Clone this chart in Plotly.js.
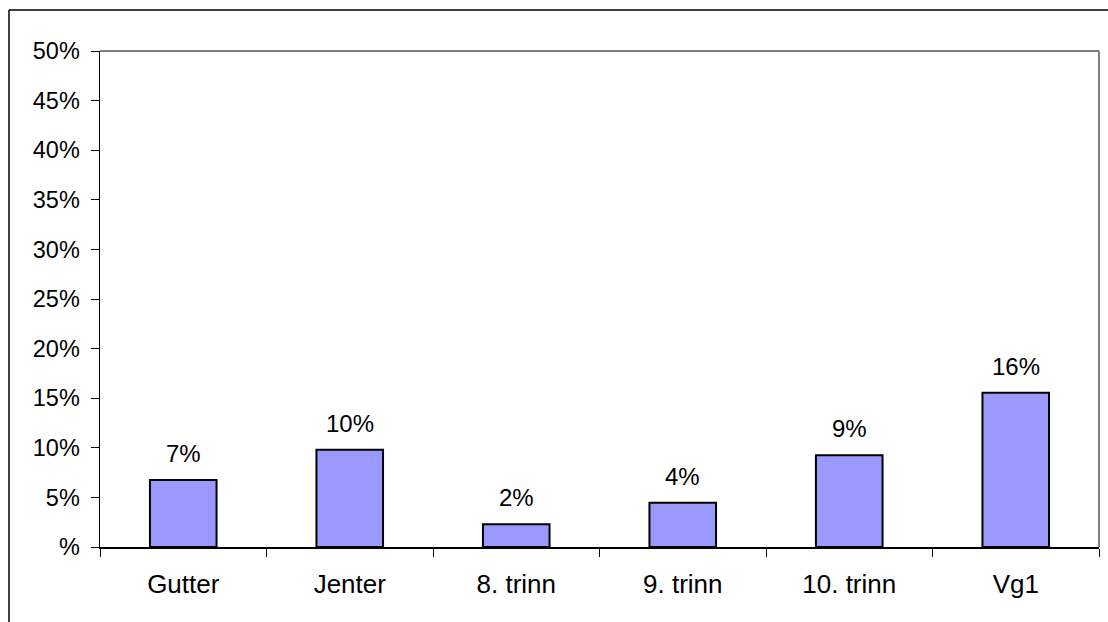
<!DOCTYPE html>
<html>
<head>
<meta charset="utf-8">
<script src="https://cdn.plot.ly/plotly-3.0.1.min.js"></script>
<style>
  html, body { margin: 0; padding: 0; background: #fff; }
  #chart { width: 1108px; height: 622px; }
</style>
</head>
<body>
<div id="chart"></div>
<script>
const categories = ['Gutter', 'Jenter', '8. trinn', '9. trinn', '10. trinn', 'Vg1'];
const values = [6.75, 9.8, 2.3, 4.45, 9.25, 15.55];
const yTickVals = [0, 5, 10, 15, 20, 25, 30, 35, 40, 45, 50];
const yTickText = ['%', '5%', '10%', '15%', '20%', '25%', '30%', '35%', '40%', '45%', '50%'];

const font = 'Liberation Sans, Arial, sans-serif';

const trace = {
  type: 'bar',
  x: categories,
  y: values,
  width: 0.4,
  marker: { color: '#9999FF', line: { color: '#000000', width: 2 } },
  hoverinfo: 'skip'
};

const labels = categories.map((c, i) => ({
  x: c,
  y: values[i],
  xref: 'x',
  yref: 'y',
  text: Math.round(values[i]) + '%',
  showarrow: false,
  yanchor: 'bottom',
  yshift: 11,
  font: { family: font, size: 24, color: '#000' }
}));

const layout = {
  width: 1108,
  height: 622,
  margin: { l: 100, r: 9, t: 51, b: 75, pad: 0 },
  paper_bgcolor: '#ffffff',
  plot_bgcolor: '#ffffff',
  showlegend: false,
  font: { family: font, color: '#000' },
  annotations: labels,
  xaxis: {
    type: 'category',
    showline: true,
    linecolor: '#000',
    linewidth: 1.5,
    ticks: 'outside',
    tickson: 'boundaries',
    ticklen: 8,
    tickcolor: '#000',
    tickwidth: 1,
    showgrid: false,
    tickfont: { family: font, size: 26, color: '#000' },
    ticklabelstandoff: 13,
    fixedrange: true
  },
  yaxis: {
    range: [0, 50],
    tickvals: yTickVals,
    ticktext: yTickText,
    showline: true,
    linecolor: '#000',
    linewidth: 1.5,
    ticks: 'outside',
    ticklen: 8,
    tickcolor: '#000',
    tickwidth: 1,
    showgrid: false,
    zeroline: false,
    tickfont: { family: font, size: 23.5, color: '#000' },
    ticklabelstandoff: 6,
    fixedrange: true
  },
  shapes: [
    { type: 'line', xref: 'paper', yref: 'paper', x0: 0, x1: 1, y0: 1, y1: 1, line: { color: '#808080', width: 2 } },
    { type: 'line', xref: 'paper', yref: 'paper', x0: 1, x1: 1, y0: 0, y1: 1, line: { color: '#808080', width: 2 } },
    { type: 'line', xref: 'paper', yref: 'paper', x0: -0.0911, x1: -0.0911, y0: -0.2, y1: 1.0827, line: { color: '#000', width: 1.5 } },
    { type: 'line', xref: 'paper', yref: 'paper', x0: -0.0911, x1: 1.02, y0: 1.0827, y1: 1.0827, line: { color: '#000', width: 1.5 } }
  ]
};

Plotly.newPlot('chart', [trace], layout, { displayModeBar: false, staticPlot: true });
</script>
</body>
</html>
